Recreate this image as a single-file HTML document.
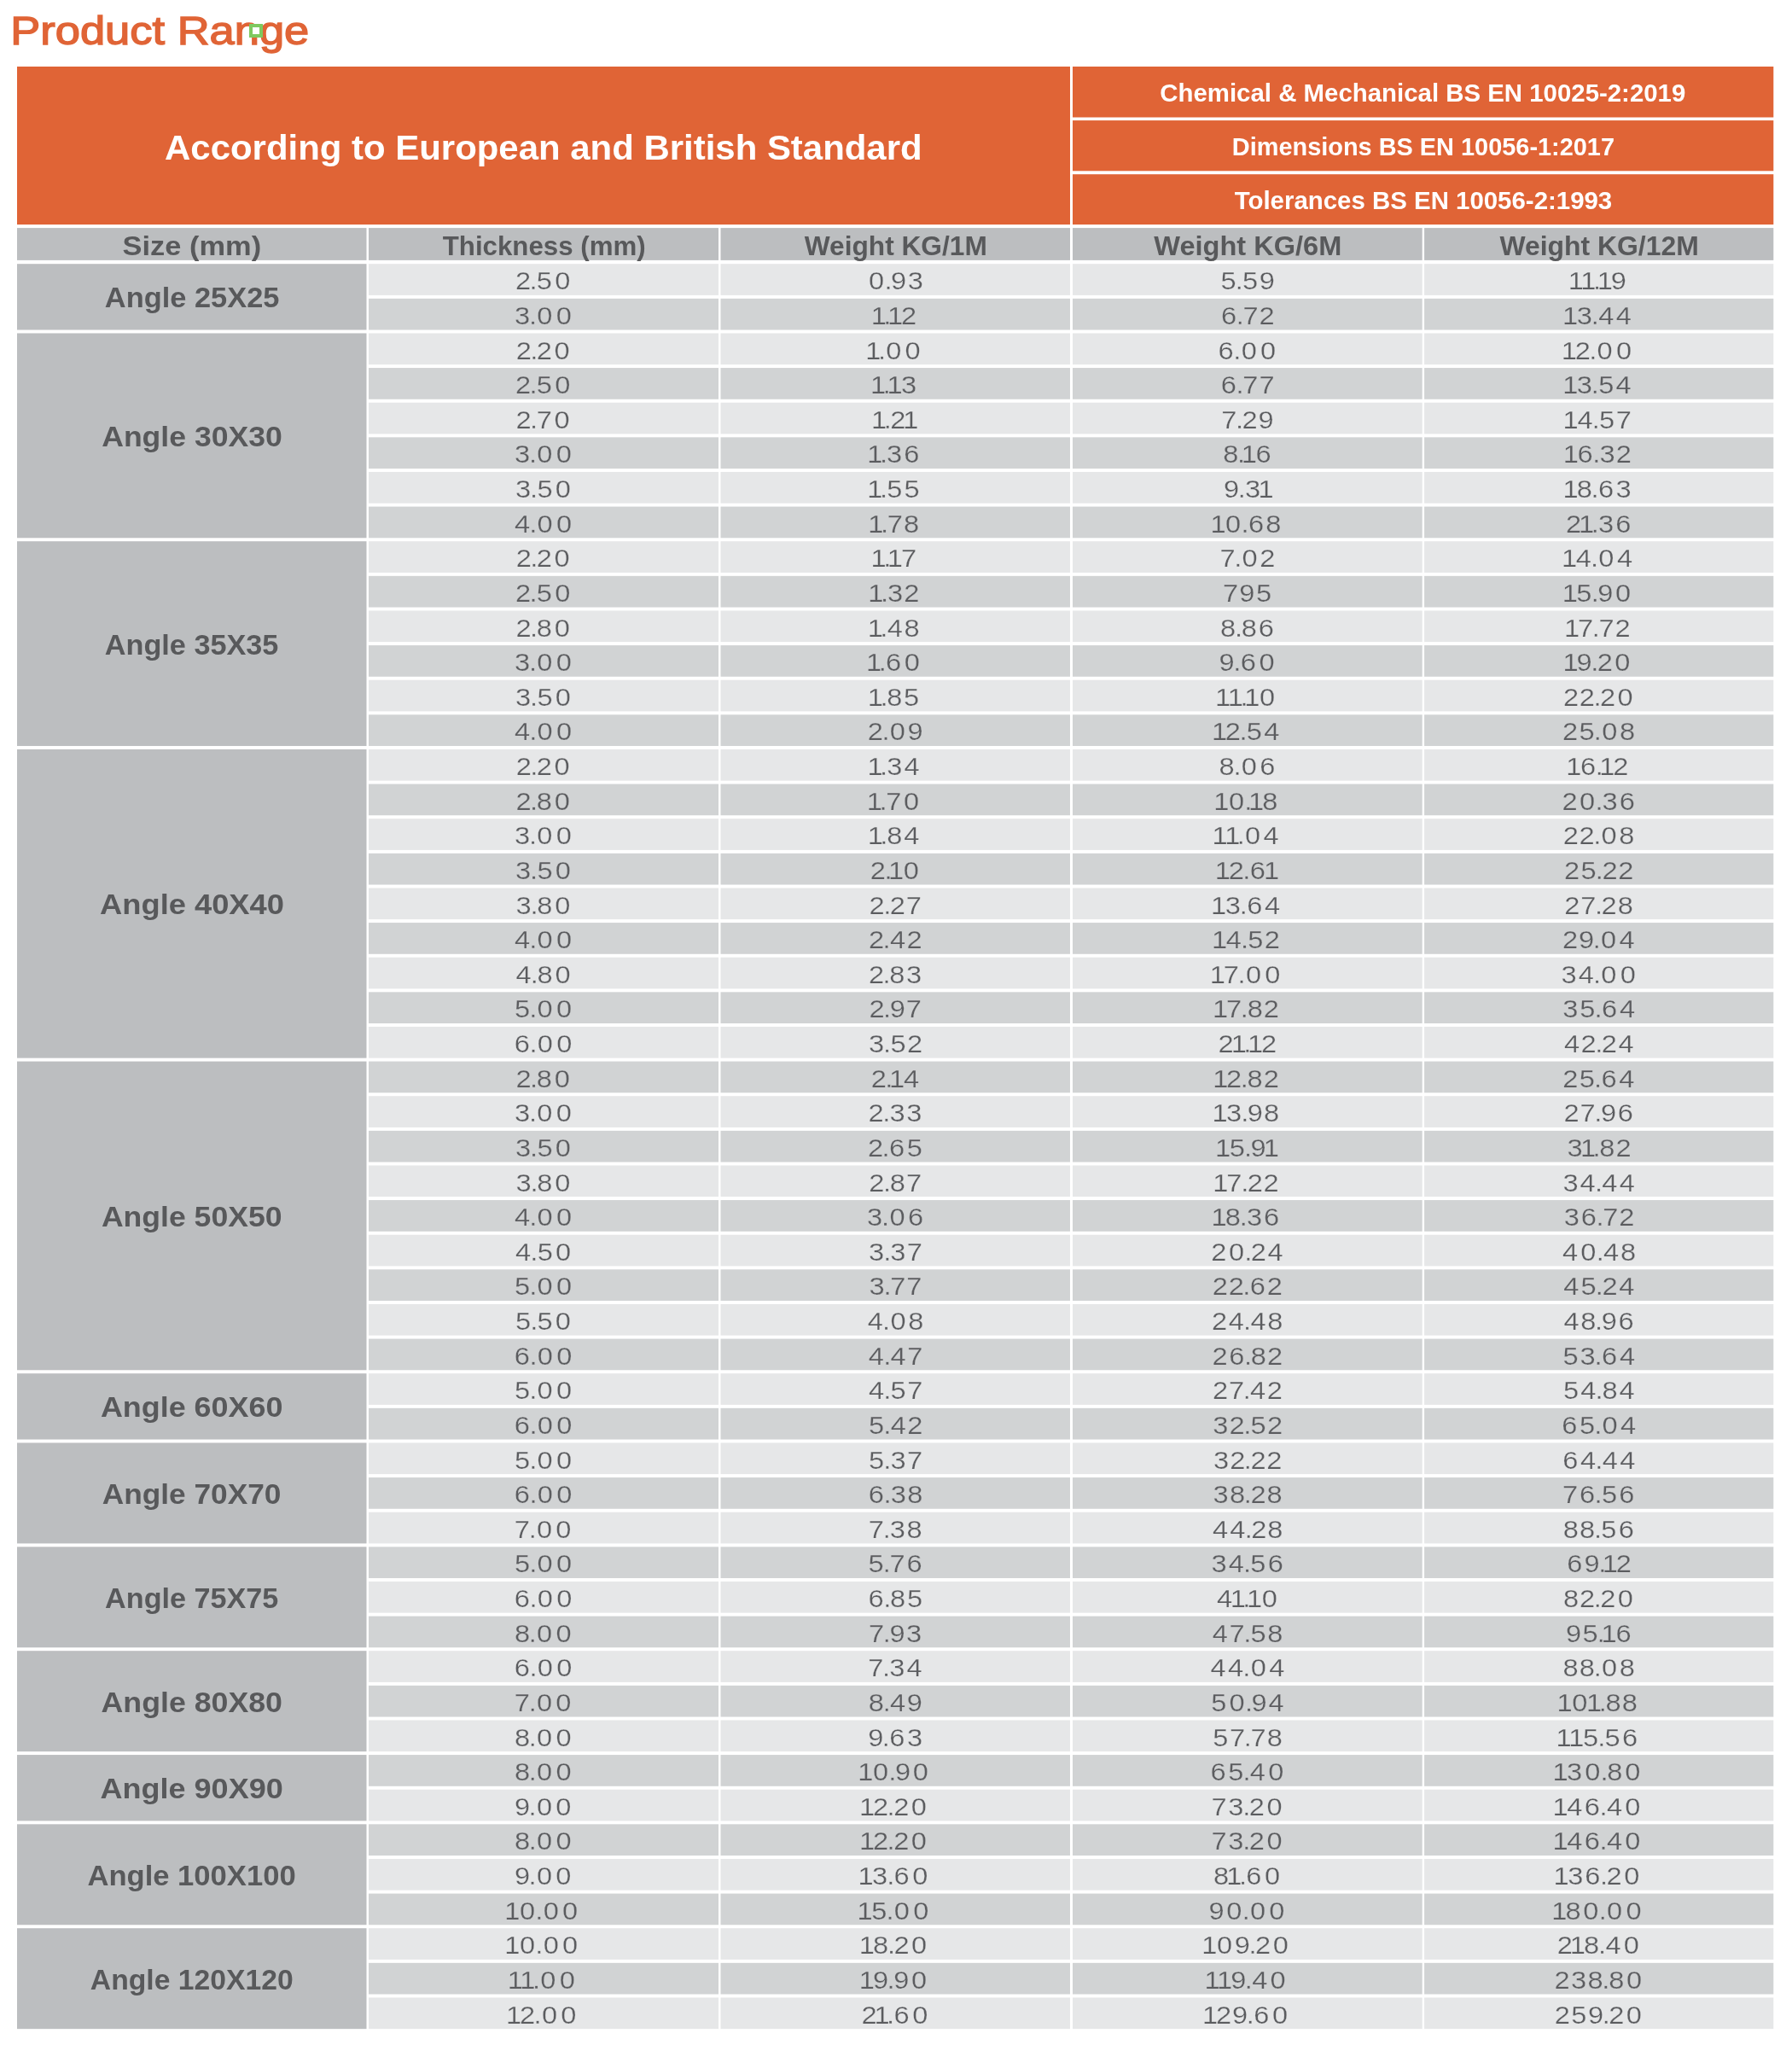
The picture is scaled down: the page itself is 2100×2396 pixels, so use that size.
<!DOCTYPE html>
<html><head><meta charset="utf-8"><title>Product Range</title>
<style>html,body{margin:0;padding:0;background:#fff;}svg{display:block;will-change:transform;}text{font-family:"Liberation Sans",Arial,sans-serif;}</style></head><body>
<svg width="2100" height="2396" viewBox="0 0 2100 2396">
<rect x="0" y="0" width="2100" height="2396" fill="#fff"/>
<rect x="20" y="78" width="1234" height="185.1" fill="#E06436"/>
<rect x="1257" y="78" width="821.3" height="59.5" fill="#E06436"/>
<rect x="1257" y="141.1" width="821.3" height="59.2" fill="#E06436"/>
<rect x="1257" y="204.2" width="821.3" height="58.9" fill="#E06436"/>
<rect x="20" y="267.1" width="409.5" height="37.8" fill="#BCBEC0"/>
<rect x="432" y="267.1" width="410" height="37.8" fill="#BCBEC0"/>
<rect x="844.5" y="267.1" width="409.5" height="37.8" fill="#BCBEC0"/>
<rect x="1257" y="267.1" width="409.7" height="37.8" fill="#BCBEC0"/>
<rect x="1669.1" y="267.1" width="409.2" height="37.8" fill="#BCBEC0"/>
<rect x="432" y="309.2" width="410" height="36.7" fill="#E6E7E8"/>
<rect x="844.5" y="309.2" width="409.5" height="36.7" fill="#E6E7E8"/>
<rect x="1257" y="309.2" width="409.7" height="36.7" fill="#E6E7E8"/>
<rect x="1669.1" y="309.2" width="409.2" height="36.7" fill="#E6E7E8"/>
<rect x="432" y="349.82" width="410" height="36.7" fill="#D1D3D4"/>
<rect x="844.5" y="349.82" width="409.5" height="36.7" fill="#D1D3D4"/>
<rect x="1257" y="349.82" width="409.7" height="36.7" fill="#D1D3D4"/>
<rect x="1669.1" y="349.82" width="409.2" height="36.7" fill="#D1D3D4"/>
<rect x="20" y="309.2" width="409.5" height="77.32" fill="#BCBEC0"/>
<rect x="432" y="390.45" width="410" height="36.7" fill="#E6E7E8"/>
<rect x="844.5" y="390.45" width="409.5" height="36.7" fill="#E6E7E8"/>
<rect x="1257" y="390.45" width="409.7" height="36.7" fill="#E6E7E8"/>
<rect x="1669.1" y="390.45" width="409.2" height="36.7" fill="#E6E7E8"/>
<rect x="432" y="431.07" width="410" height="36.7" fill="#D1D3D4"/>
<rect x="844.5" y="431.07" width="409.5" height="36.7" fill="#D1D3D4"/>
<rect x="1257" y="431.07" width="409.7" height="36.7" fill="#D1D3D4"/>
<rect x="1669.1" y="431.07" width="409.2" height="36.7" fill="#D1D3D4"/>
<rect x="432" y="471.7" width="410" height="36.7" fill="#E6E7E8"/>
<rect x="844.5" y="471.7" width="409.5" height="36.7" fill="#E6E7E8"/>
<rect x="1257" y="471.7" width="409.7" height="36.7" fill="#E6E7E8"/>
<rect x="1669.1" y="471.7" width="409.2" height="36.7" fill="#E6E7E8"/>
<rect x="432" y="512.33" width="410" height="36.7" fill="#D1D3D4"/>
<rect x="844.5" y="512.33" width="409.5" height="36.7" fill="#D1D3D4"/>
<rect x="1257" y="512.33" width="409.7" height="36.7" fill="#D1D3D4"/>
<rect x="1669.1" y="512.33" width="409.2" height="36.7" fill="#D1D3D4"/>
<rect x="432" y="552.95" width="410" height="36.7" fill="#E6E7E8"/>
<rect x="844.5" y="552.95" width="409.5" height="36.7" fill="#E6E7E8"/>
<rect x="1257" y="552.95" width="409.7" height="36.7" fill="#E6E7E8"/>
<rect x="1669.1" y="552.95" width="409.2" height="36.7" fill="#E6E7E8"/>
<rect x="432" y="593.58" width="410" height="36.7" fill="#D1D3D4"/>
<rect x="844.5" y="593.58" width="409.5" height="36.7" fill="#D1D3D4"/>
<rect x="1257" y="593.58" width="409.7" height="36.7" fill="#D1D3D4"/>
<rect x="1669.1" y="593.58" width="409.2" height="36.7" fill="#D1D3D4"/>
<rect x="20" y="390.45" width="409.5" height="239.83" fill="#BCBEC0"/>
<rect x="432" y="634.2" width="410" height="36.7" fill="#E6E7E8"/>
<rect x="844.5" y="634.2" width="409.5" height="36.7" fill="#E6E7E8"/>
<rect x="1257" y="634.2" width="409.7" height="36.7" fill="#E6E7E8"/>
<rect x="1669.1" y="634.2" width="409.2" height="36.7" fill="#E6E7E8"/>
<rect x="432" y="674.83" width="410" height="36.7" fill="#D1D3D4"/>
<rect x="844.5" y="674.83" width="409.5" height="36.7" fill="#D1D3D4"/>
<rect x="1257" y="674.83" width="409.7" height="36.7" fill="#D1D3D4"/>
<rect x="1669.1" y="674.83" width="409.2" height="36.7" fill="#D1D3D4"/>
<rect x="432" y="715.45" width="410" height="36.7" fill="#E6E7E8"/>
<rect x="844.5" y="715.45" width="409.5" height="36.7" fill="#E6E7E8"/>
<rect x="1257" y="715.45" width="409.7" height="36.7" fill="#E6E7E8"/>
<rect x="1669.1" y="715.45" width="409.2" height="36.7" fill="#E6E7E8"/>
<rect x="432" y="756.08" width="410" height="36.7" fill="#D1D3D4"/>
<rect x="844.5" y="756.08" width="409.5" height="36.7" fill="#D1D3D4"/>
<rect x="1257" y="756.08" width="409.7" height="36.7" fill="#D1D3D4"/>
<rect x="1669.1" y="756.08" width="409.2" height="36.7" fill="#D1D3D4"/>
<rect x="432" y="796.7" width="410" height="36.7" fill="#E6E7E8"/>
<rect x="844.5" y="796.7" width="409.5" height="36.7" fill="#E6E7E8"/>
<rect x="1257" y="796.7" width="409.7" height="36.7" fill="#E6E7E8"/>
<rect x="1669.1" y="796.7" width="409.2" height="36.7" fill="#E6E7E8"/>
<rect x="432" y="837.33" width="410" height="36.7" fill="#D1D3D4"/>
<rect x="844.5" y="837.33" width="409.5" height="36.7" fill="#D1D3D4"/>
<rect x="1257" y="837.33" width="409.7" height="36.7" fill="#D1D3D4"/>
<rect x="1669.1" y="837.33" width="409.2" height="36.7" fill="#D1D3D4"/>
<rect x="20" y="634.2" width="409.5" height="239.83" fill="#BCBEC0"/>
<rect x="432" y="877.95" width="410" height="36.7" fill="#E6E7E8"/>
<rect x="844.5" y="877.95" width="409.5" height="36.7" fill="#E6E7E8"/>
<rect x="1257" y="877.95" width="409.7" height="36.7" fill="#E6E7E8"/>
<rect x="1669.1" y="877.95" width="409.2" height="36.7" fill="#E6E7E8"/>
<rect x="432" y="918.58" width="410" height="36.7" fill="#D1D3D4"/>
<rect x="844.5" y="918.58" width="409.5" height="36.7" fill="#D1D3D4"/>
<rect x="1257" y="918.58" width="409.7" height="36.7" fill="#D1D3D4"/>
<rect x="1669.1" y="918.58" width="409.2" height="36.7" fill="#D1D3D4"/>
<rect x="432" y="959.2" width="410" height="36.7" fill="#E6E7E8"/>
<rect x="844.5" y="959.2" width="409.5" height="36.7" fill="#E6E7E8"/>
<rect x="1257" y="959.2" width="409.7" height="36.7" fill="#E6E7E8"/>
<rect x="1669.1" y="959.2" width="409.2" height="36.7" fill="#E6E7E8"/>
<rect x="432" y="999.83" width="410" height="36.7" fill="#D1D3D4"/>
<rect x="844.5" y="999.83" width="409.5" height="36.7" fill="#D1D3D4"/>
<rect x="1257" y="999.83" width="409.7" height="36.7" fill="#D1D3D4"/>
<rect x="1669.1" y="999.83" width="409.2" height="36.7" fill="#D1D3D4"/>
<rect x="432" y="1040.45" width="410" height="36.7" fill="#E6E7E8"/>
<rect x="844.5" y="1040.45" width="409.5" height="36.7" fill="#E6E7E8"/>
<rect x="1257" y="1040.45" width="409.7" height="36.7" fill="#E6E7E8"/>
<rect x="1669.1" y="1040.45" width="409.2" height="36.7" fill="#E6E7E8"/>
<rect x="432" y="1081.08" width="410" height="36.7" fill="#D1D3D4"/>
<rect x="844.5" y="1081.08" width="409.5" height="36.7" fill="#D1D3D4"/>
<rect x="1257" y="1081.08" width="409.7" height="36.7" fill="#D1D3D4"/>
<rect x="1669.1" y="1081.08" width="409.2" height="36.7" fill="#D1D3D4"/>
<rect x="432" y="1121.7" width="410" height="36.7" fill="#E6E7E8"/>
<rect x="844.5" y="1121.7" width="409.5" height="36.7" fill="#E6E7E8"/>
<rect x="1257" y="1121.7" width="409.7" height="36.7" fill="#E6E7E8"/>
<rect x="1669.1" y="1121.7" width="409.2" height="36.7" fill="#E6E7E8"/>
<rect x="432" y="1162.33" width="410" height="36.7" fill="#D1D3D4"/>
<rect x="844.5" y="1162.33" width="409.5" height="36.7" fill="#D1D3D4"/>
<rect x="1257" y="1162.33" width="409.7" height="36.7" fill="#D1D3D4"/>
<rect x="1669.1" y="1162.33" width="409.2" height="36.7" fill="#D1D3D4"/>
<rect x="432" y="1202.95" width="410" height="36.7" fill="#E6E7E8"/>
<rect x="844.5" y="1202.95" width="409.5" height="36.7" fill="#E6E7E8"/>
<rect x="1257" y="1202.95" width="409.7" height="36.7" fill="#E6E7E8"/>
<rect x="1669.1" y="1202.95" width="409.2" height="36.7" fill="#E6E7E8"/>
<rect x="20" y="877.95" width="409.5" height="361.7" fill="#BCBEC0"/>
<rect x="432" y="1243.58" width="410" height="36.7" fill="#D1D3D4"/>
<rect x="844.5" y="1243.58" width="409.5" height="36.7" fill="#D1D3D4"/>
<rect x="1257" y="1243.58" width="409.7" height="36.7" fill="#D1D3D4"/>
<rect x="1669.1" y="1243.58" width="409.2" height="36.7" fill="#D1D3D4"/>
<rect x="432" y="1284.2" width="410" height="36.7" fill="#E6E7E8"/>
<rect x="844.5" y="1284.2" width="409.5" height="36.7" fill="#E6E7E8"/>
<rect x="1257" y="1284.2" width="409.7" height="36.7" fill="#E6E7E8"/>
<rect x="1669.1" y="1284.2" width="409.2" height="36.7" fill="#E6E7E8"/>
<rect x="432" y="1324.83" width="410" height="36.7" fill="#D1D3D4"/>
<rect x="844.5" y="1324.83" width="409.5" height="36.7" fill="#D1D3D4"/>
<rect x="1257" y="1324.83" width="409.7" height="36.7" fill="#D1D3D4"/>
<rect x="1669.1" y="1324.83" width="409.2" height="36.7" fill="#D1D3D4"/>
<rect x="432" y="1365.45" width="410" height="36.7" fill="#E6E7E8"/>
<rect x="844.5" y="1365.45" width="409.5" height="36.7" fill="#E6E7E8"/>
<rect x="1257" y="1365.45" width="409.7" height="36.7" fill="#E6E7E8"/>
<rect x="1669.1" y="1365.45" width="409.2" height="36.7" fill="#E6E7E8"/>
<rect x="432" y="1406.08" width="410" height="36.7" fill="#D1D3D4"/>
<rect x="844.5" y="1406.08" width="409.5" height="36.7" fill="#D1D3D4"/>
<rect x="1257" y="1406.08" width="409.7" height="36.7" fill="#D1D3D4"/>
<rect x="1669.1" y="1406.08" width="409.2" height="36.7" fill="#D1D3D4"/>
<rect x="432" y="1446.7" width="410" height="36.7" fill="#E6E7E8"/>
<rect x="844.5" y="1446.7" width="409.5" height="36.7" fill="#E6E7E8"/>
<rect x="1257" y="1446.7" width="409.7" height="36.7" fill="#E6E7E8"/>
<rect x="1669.1" y="1446.7" width="409.2" height="36.7" fill="#E6E7E8"/>
<rect x="432" y="1487.33" width="410" height="36.7" fill="#D1D3D4"/>
<rect x="844.5" y="1487.33" width="409.5" height="36.7" fill="#D1D3D4"/>
<rect x="1257" y="1487.33" width="409.7" height="36.7" fill="#D1D3D4"/>
<rect x="1669.1" y="1487.33" width="409.2" height="36.7" fill="#D1D3D4"/>
<rect x="432" y="1527.95" width="410" height="36.7" fill="#E6E7E8"/>
<rect x="844.5" y="1527.95" width="409.5" height="36.7" fill="#E6E7E8"/>
<rect x="1257" y="1527.95" width="409.7" height="36.7" fill="#E6E7E8"/>
<rect x="1669.1" y="1527.95" width="409.2" height="36.7" fill="#E6E7E8"/>
<rect x="432" y="1568.58" width="410" height="36.7" fill="#D1D3D4"/>
<rect x="844.5" y="1568.58" width="409.5" height="36.7" fill="#D1D3D4"/>
<rect x="1257" y="1568.58" width="409.7" height="36.7" fill="#D1D3D4"/>
<rect x="1669.1" y="1568.58" width="409.2" height="36.7" fill="#D1D3D4"/>
<rect x="20" y="1243.58" width="409.5" height="361.7" fill="#BCBEC0"/>
<rect x="432" y="1609.2" width="410" height="36.7" fill="#E6E7E8"/>
<rect x="844.5" y="1609.2" width="409.5" height="36.7" fill="#E6E7E8"/>
<rect x="1257" y="1609.2" width="409.7" height="36.7" fill="#E6E7E8"/>
<rect x="1669.1" y="1609.2" width="409.2" height="36.7" fill="#E6E7E8"/>
<rect x="432" y="1649.83" width="410" height="36.7" fill="#D1D3D4"/>
<rect x="844.5" y="1649.83" width="409.5" height="36.7" fill="#D1D3D4"/>
<rect x="1257" y="1649.83" width="409.7" height="36.7" fill="#D1D3D4"/>
<rect x="1669.1" y="1649.83" width="409.2" height="36.7" fill="#D1D3D4"/>
<rect x="20" y="1609.2" width="409.5" height="77.33" fill="#BCBEC0"/>
<rect x="432" y="1690.45" width="410" height="36.7" fill="#E6E7E8"/>
<rect x="844.5" y="1690.45" width="409.5" height="36.7" fill="#E6E7E8"/>
<rect x="1257" y="1690.45" width="409.7" height="36.7" fill="#E6E7E8"/>
<rect x="1669.1" y="1690.45" width="409.2" height="36.7" fill="#E6E7E8"/>
<rect x="432" y="1731.08" width="410" height="36.7" fill="#D1D3D4"/>
<rect x="844.5" y="1731.08" width="409.5" height="36.7" fill="#D1D3D4"/>
<rect x="1257" y="1731.08" width="409.7" height="36.7" fill="#D1D3D4"/>
<rect x="1669.1" y="1731.08" width="409.2" height="36.7" fill="#D1D3D4"/>
<rect x="432" y="1771.7" width="410" height="36.7" fill="#E6E7E8"/>
<rect x="844.5" y="1771.7" width="409.5" height="36.7" fill="#E6E7E8"/>
<rect x="1257" y="1771.7" width="409.7" height="36.7" fill="#E6E7E8"/>
<rect x="1669.1" y="1771.7" width="409.2" height="36.7" fill="#E6E7E8"/>
<rect x="20" y="1690.45" width="409.5" height="117.95" fill="#BCBEC0"/>
<rect x="432" y="1812.33" width="410" height="36.7" fill="#D1D3D4"/>
<rect x="844.5" y="1812.33" width="409.5" height="36.7" fill="#D1D3D4"/>
<rect x="1257" y="1812.33" width="409.7" height="36.7" fill="#D1D3D4"/>
<rect x="1669.1" y="1812.33" width="409.2" height="36.7" fill="#D1D3D4"/>
<rect x="432" y="1852.95" width="410" height="36.7" fill="#E6E7E8"/>
<rect x="844.5" y="1852.95" width="409.5" height="36.7" fill="#E6E7E8"/>
<rect x="1257" y="1852.95" width="409.7" height="36.7" fill="#E6E7E8"/>
<rect x="1669.1" y="1852.95" width="409.2" height="36.7" fill="#E6E7E8"/>
<rect x="432" y="1893.58" width="410" height="36.7" fill="#D1D3D4"/>
<rect x="844.5" y="1893.58" width="409.5" height="36.7" fill="#D1D3D4"/>
<rect x="1257" y="1893.58" width="409.7" height="36.7" fill="#D1D3D4"/>
<rect x="1669.1" y="1893.58" width="409.2" height="36.7" fill="#D1D3D4"/>
<rect x="20" y="1812.33" width="409.5" height="117.95" fill="#BCBEC0"/>
<rect x="432" y="1934.2" width="410" height="36.7" fill="#E6E7E8"/>
<rect x="844.5" y="1934.2" width="409.5" height="36.7" fill="#E6E7E8"/>
<rect x="1257" y="1934.2" width="409.7" height="36.7" fill="#E6E7E8"/>
<rect x="1669.1" y="1934.2" width="409.2" height="36.7" fill="#E6E7E8"/>
<rect x="432" y="1974.83" width="410" height="36.7" fill="#D1D3D4"/>
<rect x="844.5" y="1974.83" width="409.5" height="36.7" fill="#D1D3D4"/>
<rect x="1257" y="1974.83" width="409.7" height="36.7" fill="#D1D3D4"/>
<rect x="1669.1" y="1974.83" width="409.2" height="36.7" fill="#D1D3D4"/>
<rect x="432" y="2015.45" width="410" height="36.7" fill="#E6E7E8"/>
<rect x="844.5" y="2015.45" width="409.5" height="36.7" fill="#E6E7E8"/>
<rect x="1257" y="2015.45" width="409.7" height="36.7" fill="#E6E7E8"/>
<rect x="1669.1" y="2015.45" width="409.2" height="36.7" fill="#E6E7E8"/>
<rect x="20" y="1934.2" width="409.5" height="117.95" fill="#BCBEC0"/>
<rect x="432" y="2056.07" width="410" height="36.7" fill="#D1D3D4"/>
<rect x="844.5" y="2056.07" width="409.5" height="36.7" fill="#D1D3D4"/>
<rect x="1257" y="2056.07" width="409.7" height="36.7" fill="#D1D3D4"/>
<rect x="1669.1" y="2056.07" width="409.2" height="36.7" fill="#D1D3D4"/>
<rect x="432" y="2096.7" width="410" height="36.7" fill="#E6E7E8"/>
<rect x="844.5" y="2096.7" width="409.5" height="36.7" fill="#E6E7E8"/>
<rect x="1257" y="2096.7" width="409.7" height="36.7" fill="#E6E7E8"/>
<rect x="1669.1" y="2096.7" width="409.2" height="36.7" fill="#E6E7E8"/>
<rect x="20" y="2056.07" width="409.5" height="77.32" fill="#BCBEC0"/>
<rect x="432" y="2137.32" width="410" height="36.7" fill="#D1D3D4"/>
<rect x="844.5" y="2137.32" width="409.5" height="36.7" fill="#D1D3D4"/>
<rect x="1257" y="2137.32" width="409.7" height="36.7" fill="#D1D3D4"/>
<rect x="1669.1" y="2137.32" width="409.2" height="36.7" fill="#D1D3D4"/>
<rect x="432" y="2177.95" width="410" height="36.7" fill="#E6E7E8"/>
<rect x="844.5" y="2177.95" width="409.5" height="36.7" fill="#E6E7E8"/>
<rect x="1257" y="2177.95" width="409.7" height="36.7" fill="#E6E7E8"/>
<rect x="1669.1" y="2177.95" width="409.2" height="36.7" fill="#E6E7E8"/>
<rect x="432" y="2218.57" width="410" height="36.7" fill="#D1D3D4"/>
<rect x="844.5" y="2218.57" width="409.5" height="36.7" fill="#D1D3D4"/>
<rect x="1257" y="2218.57" width="409.7" height="36.7" fill="#D1D3D4"/>
<rect x="1669.1" y="2218.57" width="409.2" height="36.7" fill="#D1D3D4"/>
<rect x="20" y="2137.32" width="409.5" height="117.95" fill="#BCBEC0"/>
<rect x="432" y="2259.2" width="410" height="36.7" fill="#E6E7E8"/>
<rect x="844.5" y="2259.2" width="409.5" height="36.7" fill="#E6E7E8"/>
<rect x="1257" y="2259.2" width="409.7" height="36.7" fill="#E6E7E8"/>
<rect x="1669.1" y="2259.2" width="409.2" height="36.7" fill="#E6E7E8"/>
<rect x="432" y="2299.82" width="410" height="36.7" fill="#D1D3D4"/>
<rect x="844.5" y="2299.82" width="409.5" height="36.7" fill="#D1D3D4"/>
<rect x="1257" y="2299.82" width="409.7" height="36.7" fill="#D1D3D4"/>
<rect x="1669.1" y="2299.82" width="409.2" height="36.7" fill="#D1D3D4"/>
<rect x="432" y="2340.45" width="410" height="36.7" fill="#E6E7E8"/>
<rect x="844.5" y="2340.45" width="409.5" height="36.7" fill="#E6E7E8"/>
<rect x="1257" y="2340.45" width="409.7" height="36.7" fill="#E6E7E8"/>
<rect x="1669.1" y="2340.45" width="409.2" height="36.7" fill="#E6E7E8"/>
<rect x="20" y="2259.2" width="409.5" height="117.95" fill="#BCBEC0"/>
<text x="12.26" y="52.3" font-size="47.1" fill="#E06436" textLength="350.07" lengthAdjust="spacingAndGlyphs" stroke="#E06436" stroke-width="1.4">Product Range</text>
<text x="193.06" y="186.9" font-size="40.4" font-weight="bold" fill="#FFFFFF" textLength="887.57" lengthAdjust="spacingAndGlyphs">According to European and British Standard</text>
<text x="1359.28" y="118.9" font-size="28.8" font-weight="bold" fill="#FFFFFF" textLength="616.06" lengthAdjust="spacingAndGlyphs">Chemical &amp; Mechanical BS EN 10025-2:2019</text>
<text x="1443.8" y="182.1" font-size="28.8" font-weight="bold" fill="#FFFFFF" textLength="448.22" lengthAdjust="spacingAndGlyphs">Dimensions BS EN 10056-1:2017</text>
<text x="1446.7" y="244.9" font-size="28.8" font-weight="bold" fill="#FFFFFF" textLength="442.54" lengthAdjust="spacingAndGlyphs">Tolerances BS EN 10056-2:1993</text>
<text x="143.6" y="298.7" font-size="30.5" font-weight="bold" fill="#58595B" textLength="162.5" lengthAdjust="spacingAndGlyphs">Size (mm)</text>
<text x="518.75" y="298.7" font-size="30.5" font-weight="bold" fill="#58595B" textLength="237.94" lengthAdjust="spacingAndGlyphs">Thickness (mm)</text>
<text x="942.8" y="298.7" font-size="30.5" font-weight="bold" fill="#58595B" textLength="213.96" lengthAdjust="spacingAndGlyphs">Weight KG/1M</text>
<text x="1352.3" y="298.7" font-size="30.5" font-weight="bold" fill="#58595B" textLength="220" lengthAdjust="spacingAndGlyphs">Weight KG/6M</text>
<text x="1757.4" y="298.7" font-size="30.5" font-weight="bold" fill="#58595B" textLength="233.37" lengthAdjust="spacingAndGlyphs">Weight KG/12M</text>
<text x="122.8" y="360.46" font-size="33.4" font-weight="bold" fill="#58595B" textLength="204.69" lengthAdjust="spacingAndGlyphs">Angle 25X25</text>
<text x="119.2" y="522.96" font-size="33.4" font-weight="bold" fill="#58595B" textLength="211.61" lengthAdjust="spacingAndGlyphs">Angle 30X30</text>
<text x="122.8" y="766.71" font-size="33.4" font-weight="bold" fill="#58595B" textLength="203.58" lengthAdjust="spacingAndGlyphs">Angle 35X35</text>
<text x="117.1" y="1071.4" font-size="33.4" font-weight="bold" fill="#58595B" textLength="215.82" lengthAdjust="spacingAndGlyphs">Angle 40X40</text>
<text x="118.9" y="1437.03" font-size="33.4" font-weight="bold" fill="#58595B" textLength="211.61" lengthAdjust="spacingAndGlyphs">Angle 50X50</text>
<text x="117.9" y="1660.46" font-size="33.4" font-weight="bold" fill="#58595B" textLength="213.51" lengthAdjust="spacingAndGlyphs">Angle 60X60</text>
<text x="119.8" y="1762.03" font-size="33.4" font-weight="bold" fill="#58595B" textLength="209.6" lengthAdjust="spacingAndGlyphs">Angle 70X70</text>
<text x="123.1" y="1883.9" font-size="33.4" font-weight="bold" fill="#58595B" textLength="203.28" lengthAdjust="spacingAndGlyphs">Angle 75X75</text>
<text x="118.6" y="2005.78" font-size="33.4" font-weight="bold" fill="#58595B" textLength="212.31" lengthAdjust="spacingAndGlyphs">Angle 80X80</text>
<text x="117.6" y="2107.34" font-size="33.4" font-weight="bold" fill="#58595B" textLength="214.11" lengthAdjust="spacingAndGlyphs">Angle 90X90</text>
<text x="102.4" y="2208.9" font-size="33.4" font-weight="bold" fill="#58595B" textLength="244.29" lengthAdjust="spacingAndGlyphs">Angle 100X100</text>
<text x="105.8" y="2330.77" font-size="33.4" font-weight="bold" fill="#58595B" textLength="237.88" lengthAdjust="spacingAndGlyphs">Angle 120X120</text>
<text x="606.69 621.93 629.53 649.06" y="339.3" font-size="29.9" fill="#5B5C5F" stroke="#E6E7E8" stroke-width="0.25" transform="matrix(1.09 0 0 1 -57.33 0)">2.50</text>
<text x="1020.61 1037.48 1044.5 1062.47" y="339.3" font-size="29.9" fill="#5B5C5F" stroke="#E6E7E8" stroke-width="0.25" transform="matrix(1.09 0 0 1 -94.43 0)">0.93</text>
<text x="1433.09 1448.95 1456.54 1474.56" y="339.3" font-size="29.9" fill="#5B5C5F" stroke="#E6E7E8" stroke-width="0.25" transform="matrix(1.09 0 0 1 -131.57 0)">5.59</text>
<text x="1840.62 1854.1 1867.54 1871.84 1886.59" y="339.3" font-size="29.9" fill="#5B5C5F" stroke="#E6E7E8" stroke-width="0.25" transform="matrix(1.09 0 0 1 -168.63 0)">11.19</text>
<text x="605.8 621.45 629.99 650.53" y="379.93" font-size="29.9" fill="#5B5C5F" stroke="#D1D3D4" stroke-width="0.25" transform="matrix(1.09 0 0 1 -57.33 0)">3.00</text>
<text x="1023 1036.45 1040.75 1055.39" y="379.93" font-size="29.9" fill="#5B5C5F" stroke="#D1D3D4" stroke-width="0.25" transform="matrix(1.09 0 0 1 -94.43 0)">1.12</text>
<text x="1433.56 1449.81 1456.86 1474.31" y="379.93" font-size="29.9" fill="#5B5C5F" stroke="#D1D3D4" stroke-width="0.25" transform="matrix(1.09 0 0 1 -131.57 0)">6.72</text>
<text x="1834.64 1849.87 1865.51 1873.26 1892.02" y="379.93" font-size="29.9" fill="#5B5C5F" stroke="#D1D3D4" stroke-width="0.25" transform="matrix(1.09 0 0 1 -168.63 0)">13.44</text>
<text x="607.33 622.58 629.5 648.42" y="420.55" font-size="29.9" fill="#5B5C5F" stroke="#E6E7E8" stroke-width="0.25" transform="matrix(1.09 0 0 1 -57.33 0)">2.20</text>
<text x="1017.13 1030.57 1039.11 1059.65" y="420.55" font-size="29.9" fill="#5B5C5F" stroke="#E6E7E8" stroke-width="0.25" transform="matrix(1.09 0 0 1 -94.43 0)">1.00</text>
<text x="1430.46 1446.71 1455.25 1475.79" y="420.55" font-size="29.9" fill="#5B5C5F" stroke="#E6E7E8" stroke-width="0.25" transform="matrix(1.09 0 0 1 -131.57 0)">6.00</text>
<text x="1833.35 1848 1863.24 1871.78 1892.33" y="420.55" font-size="29.9" fill="#5B5C5F" stroke="#E6E7E8" stroke-width="0.25" transform="matrix(1.09 0 0 1 -168.63 0)">12.00</text>
<text x="606.69 621.93 629.53 649.06" y="461.18" font-size="29.9" fill="#5B5C5F" stroke="#D1D3D4" stroke-width="0.25" transform="matrix(1.09 0 0 1 -57.33 0)">2.50</text>
<text x="1022.51 1035.95 1040.26 1055.48" y="461.18" font-size="29.9" fill="#5B5C5F" stroke="#D1D3D4" stroke-width="0.25" transform="matrix(1.09 0 0 1 -94.43 0)">1.13</text>
<text x="1433.42 1449.67 1456.72 1474.3" y="461.18" font-size="29.9" fill="#5B5C5F" stroke="#D1D3D4" stroke-width="0.25" transform="matrix(1.09 0 0 1 -131.57 0)">6.77</text>
<text x="1834.73 1849.95 1865.6 1873.19 1891.93" y="461.18" font-size="29.9" fill="#5B5C5F" stroke="#D1D3D4" stroke-width="0.25" transform="matrix(1.09 0 0 1 -168.63 0)">13.54</text>
<text x="607.19 622.44 629.48 648.56" y="501.8" font-size="29.9" fill="#5B5C5F" stroke="#E6E7E8" stroke-width="0.25" transform="matrix(1.09 0 0 1 -57.33 0)">2.70</text>
<text x="1023.43 1036.87 1043.79 1057.62" y="501.8" font-size="29.9" fill="#5B5C5F" stroke="#E6E7E8" stroke-width="0.25" transform="matrix(1.09 0 0 1 -94.43 0)">1.21</text>
<text x="1433.69 1449.09 1456.01 1473.41" y="501.8" font-size="29.9" fill="#5B5C5F" stroke="#E6E7E8" stroke-width="0.25" transform="matrix(1.09 0 0 1 -131.57 0)">7.29</text>
<text x="1835.08 1850.55 1866.43 1874.02 1892.06" y="501.8" font-size="29.9" fill="#5B5C5F" stroke="#E6E7E8" stroke-width="0.25" transform="matrix(1.09 0 0 1 -168.63 0)">14.57</text>
<text x="605.8 621.45 629.99 650.53" y="542.43" font-size="29.9" fill="#5B5C5F" stroke="#D1D3D4" stroke-width="0.25" transform="matrix(1.09 0 0 1 -57.33 0)">3.00</text>
<text x="1018.97 1032.41 1039.91 1058.42" y="542.43" font-size="29.9" fill="#5B5C5F" stroke="#D1D3D4" stroke-width="0.25" transform="matrix(1.09 0 0 1 -94.43 0)">1.36</text>
<text x="1435.54 1451.01 1455.31 1470.76" y="542.43" font-size="29.9" fill="#5B5C5F" stroke="#D1D3D4" stroke-width="0.25" transform="matrix(1.09 0 0 1 -131.57 0)">8.16</text>
<text x="1835.2 1850.65 1866.9 1874.4 1892.1" y="542.43" font-size="29.9" fill="#5B5C5F" stroke="#D1D3D4" stroke-width="0.25" transform="matrix(1.09 0 0 1 -168.63 0)">16.32</text>
<text x="606.78 622.42 630.02 649.55" y="583.05" font-size="29.9" fill="#5B5C5F" stroke="#E6E7E8" stroke-width="0.25" transform="matrix(1.09 0 0 1 -57.33 0)">3.50</text>
<text x="1019.08 1032.52 1040.12 1058.7" y="583.05" font-size="29.9" fill="#5B5C5F" stroke="#E6E7E8" stroke-width="0.25" transform="matrix(1.09 0 0 1 -94.43 0)">1.55</text>
<text x="1436.38 1451.71 1459.21 1473.45" y="583.05" font-size="29.9" fill="#5B5C5F" stroke="#E6E7E8" stroke-width="0.25" transform="matrix(1.09 0 0 1 -131.57 0)">9.31</text>
<text x="1834.96 1849.84 1865.32 1873.04 1891.93" y="583.05" font-size="29.9" fill="#5B5C5F" stroke="#E6E7E8" stroke-width="0.25" transform="matrix(1.09 0 0 1 -168.63 0)">18.63</text>
<text x="605.81 621.69 630.23 650.77" y="623.68" font-size="29.9" fill="#5B5C5F" stroke="#D1D3D4" stroke-width="0.25" transform="matrix(1.09 0 0 1 -57.33 0)">4.00</text>
<text x="1019.99 1033.44 1040.48 1058.17" y="623.68" font-size="29.9" fill="#5B5C5F" stroke="#D1D3D4" stroke-width="0.25" transform="matrix(1.09 0 0 1 -94.43 0)">1.78</text>
<text x="1421.98 1438.25 1455.11 1462.84 1481.38" y="623.68" font-size="29.9" fill="#5B5C5F" stroke="#D1D3D4" stroke-width="0.25" transform="matrix(1.09 0 0 1 -131.57 0)">10.68</text>
<text x="1838.24 1852.07 1865.51 1873.01 1891.52" y="623.68" font-size="29.9" fill="#5B5C5F" stroke="#D1D3D4" stroke-width="0.25" transform="matrix(1.09 0 0 1 -168.63 0)">21.36</text>
<text x="607.33 622.58 629.5 648.42" y="664.3" font-size="29.9" fill="#5B5C5F" stroke="#E6E7E8" stroke-width="0.25" transform="matrix(1.09 0 0 1 -57.33 0)">2.20</text>
<text x="1022.87 1036.31 1040.61 1055.38" y="664.3" font-size="29.9" fill="#5B5C5F" stroke="#E6E7E8" stroke-width="0.25" transform="matrix(1.09 0 0 1 -94.43 0)">1.17</text>
<text x="1432.17 1447.56 1456.1 1475.03" y="664.3" font-size="29.9" fill="#5B5C5F" stroke="#E6E7E8" stroke-width="0.25" transform="matrix(1.09 0 0 1 -131.57 0)">7.02</text>
<text x="1833.51 1848.99 1864.86 1873.4 1893.15" y="664.3" font-size="29.9" fill="#5B5C5F" stroke="#E6E7E8" stroke-width="0.25" transform="matrix(1.09 0 0 1 -168.63 0)">14.04</text>
<text x="606.69 621.93 629.53 649.06" y="704.93" font-size="29.9" fill="#5B5C5F" stroke="#D1D3D4" stroke-width="0.25" transform="matrix(1.09 0 0 1 -57.33 0)">2.50</text>
<text x="1019.88 1033.32 1040.82 1058.52" y="704.93" font-size="29.9" fill="#5B5C5F" stroke="#D1D3D4" stroke-width="0.25" transform="matrix(1.09 0 0 1 -94.43 0)">1.32</text>
<text x="1435.48 1453.04 1471.1" y="704.93" font-size="29.9" fill="#5B5C5F" stroke="#D1D3D4" stroke-width="0.25" transform="matrix(1.09 0 0 1 -131.57 0)">795</text>
<text x="1834.23 1849.55 1865.41 1872.43 1891.45" y="704.93" font-size="29.9" fill="#5B5C5F" stroke="#D1D3D4" stroke-width="0.25" transform="matrix(1.09 0 0 1 -168.63 0)">15.90</text>
<text x="607.1 622.34 629.5 648.65" y="745.55" font-size="29.9" fill="#5B5C5F" stroke="#E6E7E8" stroke-width="0.25" transform="matrix(1.09 0 0 1 -57.33 0)">2.80</text>
<text x="1019.4 1032.84 1040.59 1058.76" y="745.55" font-size="29.9" fill="#5B5C5F" stroke="#E6E7E8" stroke-width="0.25" transform="matrix(1.09 0 0 1 -94.43 0)">1.48</text>
<text x="1432.66 1448.14 1455.3 1473.64" y="745.55" font-size="29.9" fill="#5B5C5F" stroke="#E6E7E8" stroke-width="0.25" transform="matrix(1.09 0 0 1 -131.57 0)">8.86</text>
<text x="1836.32 1851.09 1866.48 1873.53 1890.98" y="745.55" font-size="29.9" fill="#5B5C5F" stroke="#E6E7E8" stroke-width="0.25" transform="matrix(1.09 0 0 1 -168.63 0)">17.72</text>
<text x="605.8 621.45 629.99 650.53" y="786.18" font-size="29.9" fill="#5B5C5F" stroke="#D1D3D4" stroke-width="0.25" transform="matrix(1.09 0 0 1 -57.33 0)">3.00</text>
<text x="1017.84 1031.28 1039.01 1058.94" y="786.18" font-size="29.9" fill="#5B5C5F" stroke="#D1D3D4" stroke-width="0.25" transform="matrix(1.09 0 0 1 -94.43 0)">1.60</text>
<text x="1431.29 1446.62 1454.34 1474.27" y="786.18" font-size="29.9" fill="#5B5C5F" stroke="#D1D3D4" stroke-width="0.25" transform="matrix(1.09 0 0 1 -131.57 0)">9.60</text>
<text x="1834.88 1849.63 1864.96 1871.88 1890.8" y="786.18" font-size="29.9" fill="#5B5C5F" stroke="#D1D3D4" stroke-width="0.25" transform="matrix(1.09 0 0 1 -168.63 0)">19.20</text>
<text x="606.78 622.42 630.02 649.55" y="826.8" font-size="29.9" fill="#5B5C5F" stroke="#E6E7E8" stroke-width="0.25" transform="matrix(1.09 0 0 1 -57.33 0)">3.50</text>
<text x="1019.49 1032.93 1040.09 1058.29" y="826.8" font-size="29.9" fill="#5B5C5F" stroke="#E6E7E8" stroke-width="0.25" transform="matrix(1.09 0 0 1 -94.43 0)">1.85</text>
<text x="1427.25 1440.72 1454.16 1458.47 1474.73" y="826.8" font-size="29.9" fill="#5B5C5F" stroke="#E6E7E8" stroke-width="0.25" transform="matrix(1.09 0 0 1 -131.57 0)">11.10</text>
<text x="1835.38 1852.68 1867.93 1874.85 1893.77" y="826.8" font-size="29.9" fill="#5B5C5F" stroke="#E6E7E8" stroke-width="0.25" transform="matrix(1.09 0 0 1 -168.63 0)">22.20</text>
<text x="605.81 621.69 630.23 650.77" y="867.43" font-size="29.9" fill="#5B5C5F" stroke="#D1D3D4" stroke-width="0.25" transform="matrix(1.09 0 0 1 -57.33 0)">4.00</text>
<text x="1019.49 1034.73 1043.27 1062.3" y="867.43" font-size="29.9" fill="#5B5C5F" stroke="#D1D3D4" stroke-width="0.25" transform="matrix(1.09 0 0 1 -94.43 0)">2.09</text>
<text x="1423.37 1438.02 1453.26 1460.85 1479.59" y="867.43" font-size="29.9" fill="#5B5C5F" stroke="#D1D3D4" stroke-width="0.25" transform="matrix(1.09 0 0 1 -131.57 0)">12.54</text>
<text x="1834.5 1852.48 1868.34 1876.88 1896.03" y="867.43" font-size="29.9" fill="#5B5C5F" stroke="#D1D3D4" stroke-width="0.25" transform="matrix(1.09 0 0 1 -168.63 0)">25.08</text>
<text x="607.33 622.58 629.5 648.42" y="908.05" font-size="29.9" fill="#5B5C5F" stroke="#E6E7E8" stroke-width="0.25" transform="matrix(1.09 0 0 1 -57.33 0)">2.20</text>
<text x="1019.15 1032.59 1040.09 1058.62" y="908.05" font-size="29.9" fill="#5B5C5F" stroke="#E6E7E8" stroke-width="0.25" transform="matrix(1.09 0 0 1 -94.43 0)">1.34</text>
<text x="1431.28 1446.76 1455.3 1475.02" y="908.05" font-size="29.9" fill="#5B5C5F" stroke="#E6E7E8" stroke-width="0.25" transform="matrix(1.09 0 0 1 -131.57 0)">8.06</text>
<text x="1838.33 1853.77 1870.02 1874.32 1888.97" y="908.05" font-size="29.9" fill="#5B5C5F" stroke="#E6E7E8" stroke-width="0.25" transform="matrix(1.09 0 0 1 -168.63 0)">16.12</text>
<text x="607.1 622.34 629.5 648.65" y="948.68" font-size="29.9" fill="#5B5C5F" stroke="#D1D3D4" stroke-width="0.25" transform="matrix(1.09 0 0 1 -57.33 0)">2.80</text>
<text x="1018.61 1032.05 1039.09 1058.17" y="948.68" font-size="29.9" fill="#5B5C5F" stroke="#D1D3D4" stroke-width="0.25" transform="matrix(1.09 0 0 1 -94.43 0)">1.70</text>
<text x="1425.53 1441.79 1458.66 1462.96 1477.84" y="948.68" font-size="29.9" fill="#5B5C5F" stroke="#D1D3D4" stroke-width="0.25" transform="matrix(1.09 0 0 1 -131.57 0)">10.18</text>
<text x="1833.99 1852.91 1869.77 1877.27 1895.78" y="948.68" font-size="29.9" fill="#5B5C5F" stroke="#D1D3D4" stroke-width="0.25" transform="matrix(1.09 0 0 1 -168.63 0)">20.36</text>
<text x="605.8 621.45 629.99 650.53" y="989.3" font-size="29.9" fill="#5B5C5F" stroke="#E6E7E8" stroke-width="0.25" transform="matrix(1.09 0 0 1 -57.33 0)">3.00</text>
<text x="1019.4 1032.84 1040 1058.36" y="989.3" font-size="29.9" fill="#5B5C5F" stroke="#E6E7E8" stroke-width="0.25" transform="matrix(1.09 0 0 1 -94.43 0)">1.84</text>
<text x="1423.88 1437.36 1450.8 1459.34 1479.08" y="989.3" font-size="29.9" fill="#5B5C5F" stroke="#E6E7E8" stroke-width="0.25" transform="matrix(1.09 0 0 1 -131.57 0)">11.04</text>
<text x="1835.15 1852.45 1867.69 1876.23 1895.39" y="989.3" font-size="29.9" fill="#5B5C5F" stroke="#E6E7E8" stroke-width="0.25" transform="matrix(1.09 0 0 1 -168.63 0)">22.08</text>
<text x="606.78 622.42 630.02 649.55" y="1029.92" font-size="29.9" fill="#5B5C5F" stroke="#D1D3D4" stroke-width="0.25" transform="matrix(1.09 0 0 1 -57.33 0)">3.50</text>
<text x="1022.22 1037.46 1041.76 1058.03" y="1029.92" font-size="29.9" fill="#5B5C5F" stroke="#D1D3D4" stroke-width="0.25" transform="matrix(1.09 0 0 1 -94.43 0)">2.10</text>
<text x="1426.9 1441.55 1456.79 1464.52 1479.35" y="1029.92" font-size="29.9" fill="#5B5C5F" stroke="#D1D3D4" stroke-width="0.25" transform="matrix(1.09 0 0 1 -131.57 0)">12.61</text>
<text x="1836.36 1854.33 1870.19 1877.11 1894.41" y="1029.92" font-size="29.9" fill="#5B5C5F" stroke="#D1D3D4" stroke-width="0.25" transform="matrix(1.09 0 0 1 -168.63 0)">25.22</text>
<text x="607.19 622.83 629.99 649.14" y="1070.55" font-size="29.9" fill="#5B5C5F" stroke="#E6E7E8" stroke-width="0.25" transform="matrix(1.09 0 0 1 -57.33 0)">3.80</text>
<text x="1021.06 1036.31 1043.23 1060.65" y="1070.55" font-size="29.9" fill="#5B5C5F" stroke="#E6E7E8" stroke-width="0.25" transform="matrix(1.09 0 0 1 -94.43 0)">2.27</text>
<text x="1422.62 1437.84 1453.49 1461.21 1480.35" y="1070.55" font-size="29.9" fill="#5B5C5F" stroke="#E6E7E8" stroke-width="0.25" transform="matrix(1.09 0 0 1 -131.57 0)">13.64</text>
<text x="1836.63 1854.05 1869.45 1876.37 1893.91" y="1070.55" font-size="29.9" fill="#5B5C5F" stroke="#E6E7E8" stroke-width="0.25" transform="matrix(1.09 0 0 1 -168.63 0)">27.28</text>
<text x="605.81 621.69 630.23 650.77" y="1111.17" font-size="29.9" fill="#5B5C5F" stroke="#D1D3D4" stroke-width="0.25" transform="matrix(1.09 0 0 1 -57.33 0)">4.00</text>
<text x="1020.47 1035.72 1043.46 1061.4" y="1111.17" font-size="29.9" fill="#5B5C5F" stroke="#D1D3D4" stroke-width="0.25" transform="matrix(1.09 0 0 1 -94.43 0)">2.42</text>
<text x="1423.37 1438.84 1454.72 1462.31 1480.23" y="1111.17" font-size="29.9" fill="#5B5C5F" stroke="#D1D3D4" stroke-width="0.25" transform="matrix(1.09 0 0 1 -131.57 0)">14.52</text>
<text x="1834.56 1851.96 1867.29 1875.84 1895.58" y="1111.17" font-size="29.9" fill="#5B5C5F" stroke="#D1D3D4" stroke-width="0.25" transform="matrix(1.09 0 0 1 -168.63 0)">29.04</text>
<text x="607.19 623.07 630.23 649.38" y="1151.8" font-size="29.9" fill="#5B5C5F" stroke="#E6E7E8" stroke-width="0.25" transform="matrix(1.09 0 0 1 -57.33 0)">4.80</text>
<text x="1020.48 1035.72 1042.88 1060.99" y="1151.8" font-size="29.9" fill="#5B5C5F" stroke="#E6E7E8" stroke-width="0.25" transform="matrix(1.09 0 0 1 -94.43 0)">2.83</text>
<text x="1421.37 1436.14 1451.53 1460.07 1480.61" y="1151.8" font-size="29.9" fill="#5B5C5F" stroke="#E6E7E8" stroke-width="0.25" transform="matrix(1.09 0 0 1 -131.57 0)">17.00</text>
<text x="1833.12 1851.65 1867.53 1876.07 1896.61" y="1151.8" font-size="29.9" fill="#5B5C5F" stroke="#E6E7E8" stroke-width="0.25" transform="matrix(1.09 0 0 1 -168.63 0)">34.00</text>
<text x="605.74 621.6 630.14 650.68" y="1192.42" font-size="29.9" fill="#5B5C5F" stroke="#D1D3D4" stroke-width="0.25" transform="matrix(1.09 0 0 1 -57.33 0)">5.00</text>
<text x="1020.97 1036.21 1043.24 1060.75" y="1192.42" font-size="29.9" fill="#5B5C5F" stroke="#D1D3D4" stroke-width="0.25" transform="matrix(1.09 0 0 1 -94.43 0)">2.97</text>
<text x="1424.37 1439.14 1454.54 1461.69 1479.23" y="1192.42" font-size="29.9" fill="#5B5C5F" stroke="#D1D3D4" stroke-width="0.25" transform="matrix(1.09 0 0 1 -131.57 0)">17.82</text>
<text x="1834.81 1853.19 1869.05 1876.77 1895.9" y="1192.42" font-size="29.9" fill="#5B5C5F" stroke="#D1D3D4" stroke-width="0.25" transform="matrix(1.09 0 0 1 -168.63 0)">35.64</text>
<text x="605.61 621.86 630.4 650.94" y="1233.05" font-size="29.9" fill="#5B5C5F" stroke="#E6E7E8" stroke-width="0.25" transform="matrix(1.09 0 0 1 -57.33 0)">6.00</text>
<text x="1020.65 1036.29 1043.89 1061.8" y="1233.05" font-size="29.9" fill="#5B5C5F" stroke="#E6E7E8" stroke-width="0.25" transform="matrix(1.09 0 0 1 -94.43 0)">3.52</text>
<text x="1430.43 1444.26 1457.7 1462 1476.64" y="1233.05" font-size="29.9" fill="#5B5C5F" stroke="#E6E7E8" stroke-width="0.25" transform="matrix(1.09 0 0 1 -131.57 0)">21.12</text>
<text x="1836.37 1854.3 1869.55 1876.47 1894.6" y="1233.05" font-size="29.9" fill="#5B5C5F" stroke="#E6E7E8" stroke-width="0.25" transform="matrix(1.09 0 0 1 -168.63 0)">42.24</text>
<text x="607.1 622.34 629.5 648.65" y="1273.67" font-size="29.9" fill="#5B5C5F" stroke="#D1D3D4" stroke-width="0.25" transform="matrix(1.09 0 0 1 -57.33 0)">2.80</text>
<text x="1023.11 1038.35 1042.65 1058.13" y="1273.67" font-size="29.9" fill="#5B5C5F" stroke="#D1D3D4" stroke-width="0.25" transform="matrix(1.09 0 0 1 -94.43 0)">2.14</text>
<text x="1424.51 1439.15 1454.4 1461.55 1479.09" y="1273.67" font-size="29.9" fill="#5B5C5F" stroke="#D1D3D4" stroke-width="0.25" transform="matrix(1.09 0 0 1 -131.57 0)">12.82</text>
<text x="1834.72 1852.7 1868.56 1876.28 1895.41" y="1273.67" font-size="29.9" fill="#5B5C5F" stroke="#D1D3D4" stroke-width="0.25" transform="matrix(1.09 0 0 1 -168.63 0)">25.64</text>
<text x="605.8 621.45 629.99 650.53" y="1314.3" font-size="29.9" fill="#5B5C5F" stroke="#E6E7E8" stroke-width="0.25" transform="matrix(1.09 0 0 1 -57.33 0)">3.00</text>
<text x="1020.22 1035.46 1042.96 1061.25" y="1314.3" font-size="29.9" fill="#5B5C5F" stroke="#E6E7E8" stroke-width="0.25" transform="matrix(1.09 0 0 1 -94.43 0)">2.33</text>
<text x="1423.92 1439.15 1454.79 1461.82 1479.44" y="1314.3" font-size="29.9" fill="#5B5C5F" stroke="#E6E7E8" stroke-width="0.25" transform="matrix(1.09 0 0 1 -131.57 0)">13.98</text>
<text x="1835.86 1853.29 1868.68 1875.71 1893.9" y="1314.3" font-size="29.9" fill="#5B5C5F" stroke="#E6E7E8" stroke-width="0.25" transform="matrix(1.09 0 0 1 -168.63 0)">27.96</text>
<text x="606.78 622.42 630.02 649.55" y="1354.92" font-size="29.9" fill="#5B5C5F" stroke="#D1D3D4" stroke-width="0.25" transform="matrix(1.09 0 0 1 -57.33 0)">3.50</text>
<text x="1019.66 1034.9 1042.62 1061.6" y="1354.92" font-size="29.9" fill="#5B5C5F" stroke="#D1D3D4" stroke-width="0.25" transform="matrix(1.09 0 0 1 -94.43 0)">2.65</text>
<text x="1427.07 1442.39 1458.24 1465.27 1479.19" y="1354.92" font-size="29.9" fill="#5B5C5F" stroke="#D1D3D4" stroke-width="0.25" transform="matrix(1.09 0 0 1 -131.57 0)">15.91</text>
<text x="1839.49 1853.72 1867.17 1874.32 1891.86" y="1354.92" font-size="29.9" fill="#5B5C5F" stroke="#D1D3D4" stroke-width="0.25" transform="matrix(1.09 0 0 1 -168.63 0)">31.82</text>
<text x="607.19 622.83 629.99 649.14" y="1395.55" font-size="29.9" fill="#5B5C5F" stroke="#E6E7E8" stroke-width="0.25" transform="matrix(1.09 0 0 1 -57.33 0)">3.80</text>
<text x="1020.83 1036.07 1043.23 1060.89" y="1395.55" font-size="29.9" fill="#5B5C5F" stroke="#E6E7E8" stroke-width="0.25" transform="matrix(1.09 0 0 1 -94.43 0)">2.87</text>
<text x="1424.6 1439.37 1454.77 1461.69 1478.99" y="1395.55" font-size="29.9" fill="#5B5C5F" stroke="#E6E7E8" stroke-width="0.25" transform="matrix(1.09 0 0 1 -131.57 0)">17.22</text>
<text x="1834.9 1853.43 1869.31 1877.05 1895.82" y="1395.55" font-size="29.9" fill="#5B5C5F" stroke="#E6E7E8" stroke-width="0.25" transform="matrix(1.09 0 0 1 -168.63 0)">34.44</text>
<text x="605.81 621.69 630.23 650.77" y="1436.17" font-size="29.9" fill="#5B5C5F" stroke="#D1D3D4" stroke-width="0.25" transform="matrix(1.09 0 0 1 -57.33 0)">4.00</text>
<text x="1018.77 1034.41 1042.95 1062.68" y="1436.17" font-size="29.9" fill="#5B5C5F" stroke="#D1D3D4" stroke-width="0.25" transform="matrix(1.09 0 0 1 -94.43 0)">3.06</text>
<text x="1423.11 1437.99 1453.47 1460.97 1479.48" y="1436.17" font-size="29.9" fill="#5B5C5F" stroke="#D1D3D4" stroke-width="0.25" transform="matrix(1.09 0 0 1 -131.57 0)">18.36</text>
<text x="1836.05 1854.55 1870.8 1877.85 1895.3" y="1436.17" font-size="29.9" fill="#5B5C5F" stroke="#D1D3D4" stroke-width="0.25" transform="matrix(1.09 0 0 1 -168.63 0)">36.72</text>
<text x="606.79 622.66 630.26 649.79" y="1476.8" font-size="29.9" fill="#5B5C5F" stroke="#E6E7E8" stroke-width="0.25" transform="matrix(1.09 0 0 1 -57.33 0)">4.50</text>
<text x="1020.66 1036.31 1043.81 1061.64" y="1476.8" font-size="29.9" fill="#5B5C5F" stroke="#E6E7E8" stroke-width="0.25" transform="matrix(1.09 0 0 1 -94.43 0)">3.37</text>
<text x="1422.8 1441.72 1458.59 1465.51 1483.64" y="1476.8" font-size="29.9" fill="#5B5C5F" stroke="#E6E7E8" stroke-width="0.25" transform="matrix(1.09 0 0 1 -131.57 0)">20.24</text>
<text x="1834.51 1854.07 1870.93 1878.68 1896.85" y="1476.8" font-size="29.9" fill="#5B5C5F" stroke="#E6E7E8" stroke-width="0.25" transform="matrix(1.09 0 0 1 -168.63 0)">40.48</text>
<text x="605.74 621.6 630.14 650.68" y="1517.42" font-size="29.9" fill="#5B5C5F" stroke="#D1D3D4" stroke-width="0.25" transform="matrix(1.09 0 0 1 -57.33 0)">5.00</text>
<text x="1021.01 1036.66 1043.71 1061.28" y="1517.42" font-size="29.9" fill="#5B5C5F" stroke="#D1D3D4" stroke-width="0.25" transform="matrix(1.09 0 0 1 -94.43 0)">3.77</text>
<text x="1424.25 1441.55 1456.79 1464.52 1482.82" y="1517.42" font-size="29.9" fill="#5B5C5F" stroke="#D1D3D4" stroke-width="0.25" transform="matrix(1.09 0 0 1 -131.57 0)">22.62</text>
<text x="1835.72 1854.33 1870.19 1877.11 1895.24" y="1517.42" font-size="29.9" fill="#5B5C5F" stroke="#D1D3D4" stroke-width="0.25" transform="matrix(1.09 0 0 1 -168.63 0)">45.24</text>
<text x="606.72 622.58 630.17 649.7" y="1558.05" font-size="29.9" fill="#5B5C5F" stroke="#E6E7E8" stroke-width="0.25" transform="matrix(1.09 0 0 1 -57.33 0)">5.50</text>
<text x="1019.44 1035.32 1043.86 1063.02" y="1558.05" font-size="29.9" fill="#5B5C5F" stroke="#E6E7E8" stroke-width="0.25" transform="matrix(1.09 0 0 1 -94.43 0)">4.08</text>
<text x="1423.46 1441.58 1457.46 1465.21 1483.38" y="1558.05" font-size="29.9" fill="#5B5C5F" stroke="#E6E7E8" stroke-width="0.25" transform="matrix(1.09 0 0 1 -131.57 0)">24.48</text>
<text x="1835.86 1854.03 1869.51 1876.54 1894.73" y="1558.05" font-size="29.9" fill="#5B5C5F" stroke="#E6E7E8" stroke-width="0.25" transform="matrix(1.09 0 0 1 -168.63 0)">48.96</text>
<text x="605.61 621.86 630.4 650.94" y="1598.67" font-size="29.9" fill="#5B5C5F" stroke="#D1D3D4" stroke-width="0.25" transform="matrix(1.09 0 0 1 -57.33 0)">6.00</text>
<text x="1020.43 1036.31 1044.05 1062.11" y="1598.67" font-size="29.9" fill="#5B5C5F" stroke="#D1D3D4" stroke-width="0.25" transform="matrix(1.09 0 0 1 -94.43 0)">4.47</text>
<text x="1424.01 1442.12 1458.37 1465.52 1483.06" y="1598.67" font-size="29.9" fill="#5B5C5F" stroke="#D1D3D4" stroke-width="0.25" transform="matrix(1.09 0 0 1 -131.57 0)">26.82</text>
<text x="1834.91 1853.4 1869.05 1876.77 1895.9" y="1598.67" font-size="29.9" fill="#5B5C5F" stroke="#D1D3D4" stroke-width="0.25" transform="matrix(1.09 0 0 1 -168.63 0)">53.64</text>
<text x="605.74 621.6 630.14 650.68" y="1639.3" font-size="29.9" fill="#5B5C5F" stroke="#E6E7E8" stroke-width="0.25" transform="matrix(1.09 0 0 1 -57.33 0)">5.00</text>
<text x="1020.52 1036.39 1043.99 1062.03" y="1639.3" font-size="29.9" fill="#5B5C5F" stroke="#E6E7E8" stroke-width="0.25" transform="matrix(1.09 0 0 1 -94.43 0)">4.57</text>
<text x="1424.28 1441.71 1457.1 1464.85 1482.79" y="1639.3" font-size="29.9" fill="#5B5C5F" stroke="#E6E7E8" stroke-width="0.25" transform="matrix(1.09 0 0 1 -131.57 0)">27.42</text>
<text x="1835.34 1854.08 1869.95 1877.11 1895.47" y="1639.3" font-size="29.9" fill="#5B5C5F" stroke="#E6E7E8" stroke-width="0.25" transform="matrix(1.09 0 0 1 -168.63 0)">54.84</text>
<text x="605.61 621.86 630.4 650.94" y="1679.92" font-size="29.9" fill="#5B5C5F" stroke="#D1D3D4" stroke-width="0.25" transform="matrix(1.09 0 0 1 -57.33 0)">6.00</text>
<text x="1020.5 1036.36 1044.1 1062.04" y="1679.92" font-size="29.9" fill="#5B5C5F" stroke="#D1D3D4" stroke-width="0.25" transform="matrix(1.09 0 0 1 -94.43 0)">5.42</text>
<text x="1424.6 1442.3 1457.55 1465.14 1483.05" y="1679.92" font-size="29.9" fill="#5B5C5F" stroke="#D1D3D4" stroke-width="0.25" transform="matrix(1.09 0 0 1 -131.57 0)">32.52</text>
<text x="1833.91 1852.89 1868.74 1877.28 1897.03" y="1679.92" font-size="29.9" fill="#5B5C5F" stroke="#D1D3D4" stroke-width="0.25" transform="matrix(1.09 0 0 1 -168.63 0)">65.04</text>
<text x="605.74 621.6 630.14 650.68" y="1720.55" font-size="29.9" fill="#5B5C5F" stroke="#E6E7E8" stroke-width="0.25" transform="matrix(1.09 0 0 1 -57.33 0)">5.00</text>
<text x="1020.6 1036.46 1043.96 1061.79" y="1720.55" font-size="29.9" fill="#5B5C5F" stroke="#E6E7E8" stroke-width="0.25" transform="matrix(1.09 0 0 1 -94.43 0)">5.37</text>
<text x="1425.24 1442.94 1458.19 1465.11 1482.41" y="1720.55" font-size="29.9" fill="#5B5C5F" stroke="#E6E7E8" stroke-width="0.25" transform="matrix(1.09 0 0 1 -131.57 0)">32.22</text>
<text x="1834.71 1853.84 1869.72 1877.47 1896.23" y="1720.55" font-size="29.9" fill="#5B5C5F" stroke="#E6E7E8" stroke-width="0.25" transform="matrix(1.09 0 0 1 -168.63 0)">64.44</text>
<text x="605.61 621.86 630.4 650.94" y="1761.17" font-size="29.9" fill="#5B5C5F" stroke="#D1D3D4" stroke-width="0.25" transform="matrix(1.09 0 0 1 -57.33 0)">6.00</text>
<text x="1020.37 1036.62 1044.12 1062.06" y="1761.17" font-size="29.9" fill="#5B5C5F" stroke="#D1D3D4" stroke-width="0.25" transform="matrix(1.09 0 0 1 -94.43 0)">6.38</text>
<text x="1424.77 1442.71 1458.19 1465.11 1482.65" y="1761.17" font-size="29.9" fill="#5B5C5F" stroke="#D1D3D4" stroke-width="0.25" transform="matrix(1.09 0 0 1 -131.57 0)">38.28</text>
<text x="1834.54 1852.79 1869.04 1876.63 1895.35" y="1761.17" font-size="29.9" fill="#5B5C5F" stroke="#D1D3D4" stroke-width="0.25" transform="matrix(1.09 0 0 1 -168.63 0)">76.56</text>
<text x="605.7 621.09 629.64 650.18" y="1801.8" font-size="29.9" fill="#5B5C5F" stroke="#E6E7E8" stroke-width="0.25" transform="matrix(1.09 0 0 1 -57.33 0)">7.00</text>
<text x="1020.46 1035.86 1043.36 1061.3" y="1801.8" font-size="29.9" fill="#5B5C5F" stroke="#E6E7E8" stroke-width="0.25" transform="matrix(1.09 0 0 1 -94.43 0)">7.38</text>
<text x="1424.28 1443.04 1458.92 1465.84 1483.38" y="1801.8" font-size="29.9" fill="#5B5C5F" stroke="#E6E7E8" stroke-width="0.25" transform="matrix(1.09 0 0 1 -131.57 0)">44.28</text>
<text x="1835.22 1852.99 1868.47 1876.06 1894.78" y="1801.8" font-size="29.9" fill="#5B5C5F" stroke="#E6E7E8" stroke-width="0.25" transform="matrix(1.09 0 0 1 -168.63 0)">88.56</text>
<text x="605.74 621.6 630.14 650.68" y="1842.42" font-size="29.9" fill="#5B5C5F" stroke="#D1D3D4" stroke-width="0.25" transform="matrix(1.09 0 0 1 -57.33 0)">5.00</text>
<text x="1020.19 1036.05 1043.09 1061.35" y="1842.42" font-size="29.9" fill="#5B5C5F" stroke="#D1D3D4" stroke-width="0.25" transform="matrix(1.09 0 0 1 -94.43 0)">5.76</text>
<text x="1422.96 1441.49 1457.37 1464.96 1483.68" y="1842.42" font-size="29.9" fill="#5B5C5F" stroke="#D1D3D4" stroke-width="0.25" transform="matrix(1.09 0 0 1 -131.57 0)">34.56</text>
<text x="1839.44 1857.85 1873.18 1877.49 1892.13" y="1842.42" font-size="29.9" fill="#5B5C5F" stroke="#D1D3D4" stroke-width="0.25" transform="matrix(1.09 0 0 1 -168.63 0)">69.12</text>
<text x="605.61 621.86 630.4 650.94" y="1883.05" font-size="29.9" fill="#5B5C5F" stroke="#E6E7E8" stroke-width="0.25" transform="matrix(1.09 0 0 1 -57.33 0)">6.00</text>
<text x="1020.22 1036.47 1043.63 1061.84" y="1883.05" font-size="29.9" fill="#5B5C5F" stroke="#E6E7E8" stroke-width="0.25" transform="matrix(1.09 0 0 1 -94.43 0)">6.85</text>
<text x="1428.9 1443.37 1456.81 1461.11 1477.37" y="1883.05" font-size="29.9" fill="#5B5C5F" stroke="#E6E7E8" stroke-width="0.25" transform="matrix(1.09 0 0 1 -131.57 0)">41.10</text>
<text x="1835.38 1852.92 1868.16 1875.08 1894" y="1883.05" font-size="29.9" fill="#5B5C5F" stroke="#E6E7E8" stroke-width="0.25" transform="matrix(1.09 0 0 1 -168.63 0)">82.20</text>
<text x="605.71 621.19 629.73 650.27" y="1923.67" font-size="29.9" fill="#5B5C5F" stroke="#D1D3D4" stroke-width="0.25" transform="matrix(1.09 0 0 1 -57.33 0)">8.00</text>
<text x="1020.6 1036 1043.02 1060.99" y="1923.67" font-size="29.9" fill="#5B5C5F" stroke="#D1D3D4" stroke-width="0.25" transform="matrix(1.09 0 0 1 -94.43 0)">7.93</text>
<text x="1424.23 1442.29 1457.69 1465.28 1483.43" y="1923.67" font-size="29.9" fill="#5B5C5F" stroke="#D1D3D4" stroke-width="0.25" transform="matrix(1.09 0 0 1 -131.57 0)">47.58</text>
<text x="1838.1 1856.16 1872.02 1876.32 1891.77" y="1923.67" font-size="29.9" fill="#5B5C5F" stroke="#D1D3D4" stroke-width="0.25" transform="matrix(1.09 0 0 1 -168.63 0)">95.16</text>
<text x="605.61 621.86 630.4 650.94" y="1964.3" font-size="29.9" fill="#5B5C5F" stroke="#E6E7E8" stroke-width="0.25" transform="matrix(1.09 0 0 1 -57.33 0)">6.00</text>
<text x="1019.97 1035.36 1042.86 1061.39" y="1964.3" font-size="29.9" fill="#5B5C5F" stroke="#E6E7E8" stroke-width="0.25" transform="matrix(1.09 0 0 1 -94.43 0)">7.34</text>
<text x="1422.17 1440.93 1456.81 1465.35 1485.09" y="1964.3" font-size="29.9" fill="#5B5C5F" stroke="#E6E7E8" stroke-width="0.25" transform="matrix(1.09 0 0 1 -131.57 0)">44.04</text>
<text x="1834.91 1852.68 1868.16 1876.7 1895.86" y="1964.3" font-size="29.9" fill="#5B5C5F" stroke="#E6E7E8" stroke-width="0.25" transform="matrix(1.09 0 0 1 -168.63 0)">88.08</text>
<text x="605.7 621.09 629.64 650.18" y="2004.92" font-size="29.9" fill="#5B5C5F" stroke="#D1D3D4" stroke-width="0.25" transform="matrix(1.09 0 0 1 -57.33 0)">7.00</text>
<text x="1020.38 1035.85 1043.6 1061.64" y="2004.92" font-size="29.9" fill="#5B5C5F" stroke="#D1D3D4" stroke-width="0.25" transform="matrix(1.09 0 0 1 -94.43 0)">8.49</text>
<text x="1422.73 1442.27 1459.13 1466.16 1484.37" y="2004.92" font-size="29.9" fill="#5B5C5F" stroke="#D1D3D4" stroke-width="0.25" transform="matrix(1.09 0 0 1 -131.57 0)">50.94</text>
<text x="1828.49 1844.76 1860.21 1873.65 1880.8 1898.57" y="2004.92" font-size="29.9" fill="#5B5C5F" stroke="#D1D3D4" stroke-width="0.25" transform="matrix(1.09 0 0 1 -168.63 0)">101.88</text>
<text x="605.71 621.19 629.73 650.27" y="2045.55" font-size="29.9" fill="#5B5C5F" stroke="#E6E7E8" stroke-width="0.25" transform="matrix(1.09 0 0 1 -57.33 0)">8.00</text>
<text x="1019.81 1035.15 1042.87 1061.76" y="2045.55" font-size="29.9" fill="#5B5C5F" stroke="#E6E7E8" stroke-width="0.25" transform="matrix(1.09 0 0 1 -94.43 0)">9.63</text>
<text x="1424.67 1442.71 1458.1 1465.15 1482.84" y="2045.55" font-size="29.9" fill="#5B5C5F" stroke="#E6E7E8" stroke-width="0.25" transform="matrix(1.09 0 0 1 -131.57 0)">57.78</text>
<text x="1827.66 1841.14 1856.46 1872.32 1879.91 1898.63" y="2045.55" font-size="29.9" fill="#5B5C5F" stroke="#E6E7E8" stroke-width="0.25" transform="matrix(1.09 0 0 1 -168.63 0)">115.56</text>
<text x="605.71 621.19 629.73 650.27" y="2086.17" font-size="29.9" fill="#5B5C5F" stroke="#D1D3D4" stroke-width="0.25" transform="matrix(1.09 0 0 1 -57.33 0)">8.00</text>
<text x="1008.81 1025.07 1041.94 1048.96 1067.97" y="2086.17" font-size="29.9" fill="#5B5C5F" stroke="#D1D3D4" stroke-width="0.25" transform="matrix(1.09 0 0 1 -94.43 0)">10.90</text>
<text x="1422.06 1441.04 1456.89 1464.64 1484.2" y="2086.17" font-size="29.9" fill="#5B5C5F" stroke="#D1D3D4" stroke-width="0.25" transform="matrix(1.09 0 0 1 -131.57 0)">65.40</text>
<text x="1823.98 1839.2 1858.53 1875.39 1882.55 1901.7" y="2086.17" font-size="29.9" fill="#5B5C5F" stroke="#D1D3D4" stroke-width="0.25" transform="matrix(1.09 0 0 1 -168.63 0)">130.80</text>
<text x="605.72 621.05 629.59 650.14" y="2126.8" font-size="29.9" fill="#5B5C5F" stroke="#E6E7E8" stroke-width="0.25" transform="matrix(1.09 0 0 1 -57.33 0)">9.00</text>
<text x="1010.52 1025.17 1040.41 1047.33 1066.26" y="2126.8" font-size="29.9" fill="#5B5C5F" stroke="#E6E7E8" stroke-width="0.25" transform="matrix(1.09 0 0 1 -94.43 0)">12.20</text>
<text x="1423.03 1441.06 1456.71 1463.63 1482.55" y="2126.8" font-size="29.9" fill="#5B5C5F" stroke="#E6E7E8" stroke-width="0.25" transform="matrix(1.09 0 0 1 -131.57 0)">73.20</text>
<text x="1823.96 1839.43 1858.17 1874.42 1882.16 1901.72" y="2126.8" font-size="29.9" fill="#5B5C5F" stroke="#E6E7E8" stroke-width="0.25" transform="matrix(1.09 0 0 1 -168.63 0)">146.40</text>
<text x="605.71 621.19 629.73 650.27" y="2167.42" font-size="29.9" fill="#5B5C5F" stroke="#D1D3D4" stroke-width="0.25" transform="matrix(1.09 0 0 1 -57.33 0)">8.00</text>
<text x="1010.52 1025.17 1040.41 1047.33 1066.26" y="2167.42" font-size="29.9" fill="#5B5C5F" stroke="#D1D3D4" stroke-width="0.25" transform="matrix(1.09 0 0 1 -94.43 0)">12.20</text>
<text x="1423.03 1441.06 1456.71 1463.63 1482.55" y="2167.42" font-size="29.9" fill="#5B5C5F" stroke="#D1D3D4" stroke-width="0.25" transform="matrix(1.09 0 0 1 -131.57 0)">73.20</text>
<text x="1823.96 1839.43 1858.17 1874.42 1882.16 1901.72" y="2167.42" font-size="29.9" fill="#5B5C5F" stroke="#D1D3D4" stroke-width="0.25" transform="matrix(1.09 0 0 1 -168.63 0)">146.40</text>
<text x="605.72 621.05 629.59 650.14" y="2208.05" font-size="29.9" fill="#5B5C5F" stroke="#E6E7E8" stroke-width="0.25" transform="matrix(1.09 0 0 1 -57.33 0)">9.00</text>
<text x="1009.13 1024.35 1040 1047.72 1067.65" y="2208.05" font-size="29.9" fill="#5B5C5F" stroke="#E6E7E8" stroke-width="0.25" transform="matrix(1.09 0 0 1 -94.43 0)">13.60</text>
<text x="1425.27 1439.33 1452.77 1460.49 1480.42" y="2208.05" font-size="29.9" fill="#5B5C5F" stroke="#E6E7E8" stroke-width="0.25" transform="matrix(1.09 0 0 1 -131.57 0)">81.60</text>
<text x="1824.93 1840.15 1858.66 1874.91 1881.83 1900.75" y="2208.05" font-size="29.9" fill="#5B5C5F" stroke="#E6E7E8" stroke-width="0.25" transform="matrix(1.09 0 0 1 -168.63 0)">136.20</text>
<text x="595.03 611.3 628.16 636.7 657.25" y="2248.67" font-size="29.9" fill="#5B5C5F" stroke="#D1D3D4" stroke-width="0.25" transform="matrix(1.09 0 0 1 -57.33 0)">10.00</text>
<text x="1008.26 1023.58 1039.44 1047.98 1068.52" y="2248.67" font-size="29.9" fill="#5B5C5F" stroke="#D1D3D4" stroke-width="0.25" transform="matrix(1.09 0 0 1 -94.43 0)">15.00</text>
<text x="1420.3 1439.31 1456.17 1464.71 1485.26" y="2248.67" font-size="29.9" fill="#5B5C5F" stroke="#D1D3D4" stroke-width="0.25" transform="matrix(1.09 0 0 1 -131.57 0)">90.00</text>
<text x="1822.85 1837.73 1856.89 1873.75 1882.29 1902.83" y="2248.67" font-size="29.9" fill="#5B5C5F" stroke="#D1D3D4" stroke-width="0.25" transform="matrix(1.09 0 0 1 -168.63 0)">180.00</text>
<text x="595.03 611.3 628.16 636.7 657.25" y="2289.3" font-size="29.9" fill="#5B5C5F" stroke="#E6E7E8" stroke-width="0.25" transform="matrix(1.09 0 0 1 -57.33 0)">10.00</text>
<text x="1010.29 1025.17 1040.65 1047.57 1066.49" y="2289.3" font-size="29.9" fill="#5B5C5F" stroke="#E6E7E8" stroke-width="0.25" transform="matrix(1.09 0 0 1 -94.43 0)">18.20</text>
<text x="1412.76 1429.02 1448.05 1463.38 1470.3 1489.22" y="2289.3" font-size="29.9" fill="#5B5C5F" stroke="#E6E7E8" stroke-width="0.25" transform="matrix(1.09 0 0 1 -131.57 0)">109.20</text>
<text x="1828.83 1842.66 1857.54 1873.02 1880.76 1900.32" y="2289.3" font-size="29.9" fill="#5B5C5F" stroke="#E6E7E8" stroke-width="0.25" transform="matrix(1.09 0 0 1 -168.63 0)">218.40</text>
<text x="598.14 611.62 625.06 633.6 654.14" y="2329.92" font-size="29.9" fill="#5B5C5F" stroke="#D1D3D4" stroke-width="0.25" transform="matrix(1.09 0 0 1 -57.33 0)">11.00</text>
<text x="1010.33 1025.08 1040.41 1047.44 1066.45" y="2329.92" font-size="29.9" fill="#5B5C5F" stroke="#D1D3D4" stroke-width="0.25" transform="matrix(1.09 0 0 1 -94.43 0)">19.90</text>
<text x="1415.56 1429.04 1443.79 1459.12 1466.87 1486.42" y="2329.92" font-size="29.9" fill="#5B5C5F" stroke="#D1D3D4" stroke-width="0.25" transform="matrix(1.09 0 0 1 -131.57 0)">119.40</text>
<text x="1825.77 1843.65 1861.59 1877.07 1884.22 1903.38" y="2329.92" font-size="29.9" fill="#5B5C5F" stroke="#D1D3D4" stroke-width="0.25" transform="matrix(1.09 0 0 1 -168.63 0)">238.80</text>
<text x="596.65 611.3 626.54 635.08 655.63" y="2370.55" font-size="29.9" fill="#5B5C5F" stroke="#E6E7E8" stroke-width="0.25" transform="matrix(1.09 0 0 1 -57.33 0)">12.00</text>
<text x="1012.67 1026.49 1039.94 1047.66 1067.59" y="2370.55" font-size="29.9" fill="#5B5C5F" stroke="#E6E7E8" stroke-width="0.25" transform="matrix(1.09 0 0 1 -94.43 0)">21.60</text>
<text x="1413.47 1428.12 1445.52 1460.86 1468.58 1488.51" y="2370.55" font-size="29.9" fill="#5B5C5F" stroke="#E6E7E8" stroke-width="0.25" transform="matrix(1.09 0 0 1 -131.57 0)">129.60</text>
<text x="1825.99 1843.97 1861.98 1877.32 1884.24 1903.16" y="2370.55" font-size="29.9" fill="#5B5C5F" stroke="#E6E7E8" stroke-width="0.25" transform="matrix(1.09 0 0 1 -168.63 0)">259.20</text>
<rect x="294" y="30" width="12" height="12" fill="#fff" stroke="#7EC95F" stroke-width="4"/>
</svg>
</body></html>
